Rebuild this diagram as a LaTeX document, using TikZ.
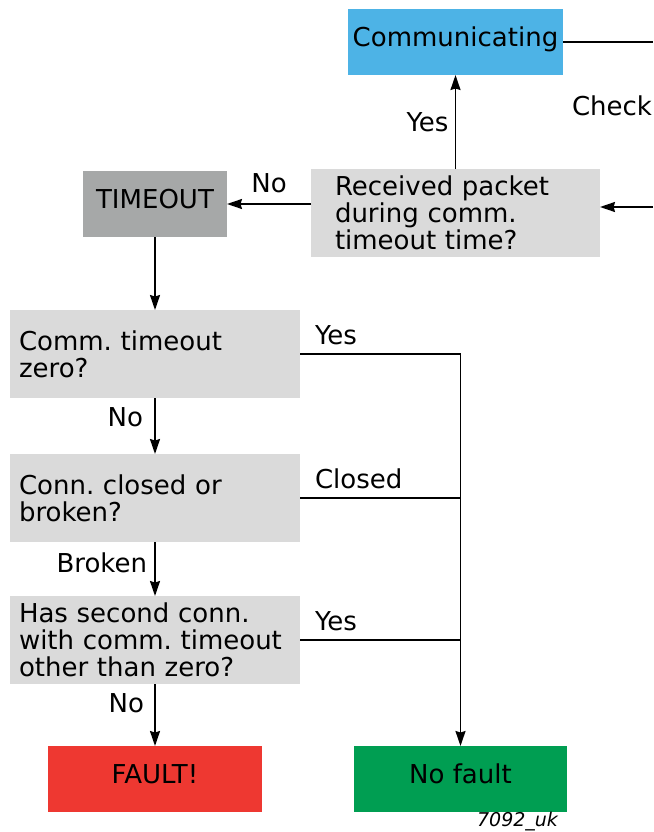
\documentclass[tikz,border=0pt]{standalone}
\usepackage{fontspec}
\setmainfont{DejaVu Sans}
\usetikzlibrary{arrows.meta,positioning,calc}
\definecolor{commblue}{HTML}{4DB3E6}
\definecolor{askgray}{HTML}{DADADA}
\definecolor{outgray}{HTML}{A6A8A8}
\definecolor{faultred}{HTML}{EE3831}
\definecolor{okgreen}{HTML}{009E52}
\newcommand{\flowfont}{\fontsize{26}{27}\selectfont\frenchspacing}

\begin{document}
\begin{tikzpicture}[
  x=1pt, y=1pt,
  >={Stealth[length=15pt,width=10pt,inset=1.5pt]},
  every path/.style={line width=1.8pt},
  every node/.style={outer sep=0pt},
  state/.style={minimum height=66pt, inner sep=0pt,
                text height=19pt, text depth=10pt, font=\flowfont},
  query/.style={fill=askgray, minimum height=88pt, inner ysep=0pt,
                inner xsep=9pt, text width=272pt, align=left, font=\flowfont},
  flowlabel/.style={font=\flowfont, inner sep=0pt},
]
\useasboundingbox (0,0) rectangle (653,-832);

% --- Top: communicating state and the packet check ---
\node[state, fill=commblue, minimum width=215pt] (comm) at (455.5,-42) {Communicating};
\node[query, inner xsep=24pt, text width=241pt, below=94pt of comm] (recv)
  {Received packet\\during comm.\\timeout time?};
\node[flowlabel, anchor=west] (check) at ($(comm.east)+(9,-64)$) {Check};

% Lines leaving / entering at the right edge
\coordinate (commout) at ($(comm.east)+(90,0)$);
\coordinate (recvin)  at ($(recv.east)+(53,6)$);
\draw (comm.east) -- (commout);
\draw[->] (recvin) -- (recvin -| recv.east);
\draw[->] (recv) -- node[flowlabel, left=7pt] {Yes} (comm);

% --- Timeout branch ---
\node[state, fill=outgray, minimum width=144pt] (timeout) at (155,-204) {TIMEOUT};
\draw[->] (recv.west |- timeout) -- node[flowlabel, above=11pt] {No} (timeout);

\node[query, below=73pt of timeout] (zero)   {Comm. timeout\\zero?};
\node[query, below=56pt of zero]    (conn)   {Conn. closed or\\broken?};
\node[query, below=54pt of conn]    (second) {Has second conn.\\with comm. timeout\\other than zero?};

% --- Results ---
\node[state, fill=faultred, minimum width=214pt, below=62pt of second] (fault)   {FAULT!};
\node[state, fill=okgreen,  minimum width=213pt, right=92pt of fault]  (nofault) {No fault};

% Left column arrows
\draw[->] (timeout) -- (zero);
\draw[->] (zero)   -- node[flowlabel, pos=0.35, left=12pt] {No}     (conn);
\draw[->] (conn)   -- node[flowlabel, pos=0.38, left=8pt]  {Broken} (second);
\draw[->] (second) -- node[flowlabel, pos=0.31, left=11pt] {No}     (fault);

% Right bus into "No fault"
\draw[->] (zero.east) -| (nofault.north);
\draw (conn.east)   -- (conn.east -| nofault.north);
\draw (second.east) -- (second.east -| nofault.north);
\node[flowlabel, above right=9pt and 15pt of zero.east]   (zeroyes)   {Yes};
\node[flowlabel, above right=9pt and 15pt of conn.east]   (connclose) {Closed};
\node[flowlabel, above right=9pt and 15pt of second.east] (secondyes) {Yes};

\node[font=\fontsize{19}{19}\selectfont\itshape, inner sep=0pt, anchor=east] (figcode)
  at (558,-822) {7092\_uk};
\end{tikzpicture}
\end{document}
